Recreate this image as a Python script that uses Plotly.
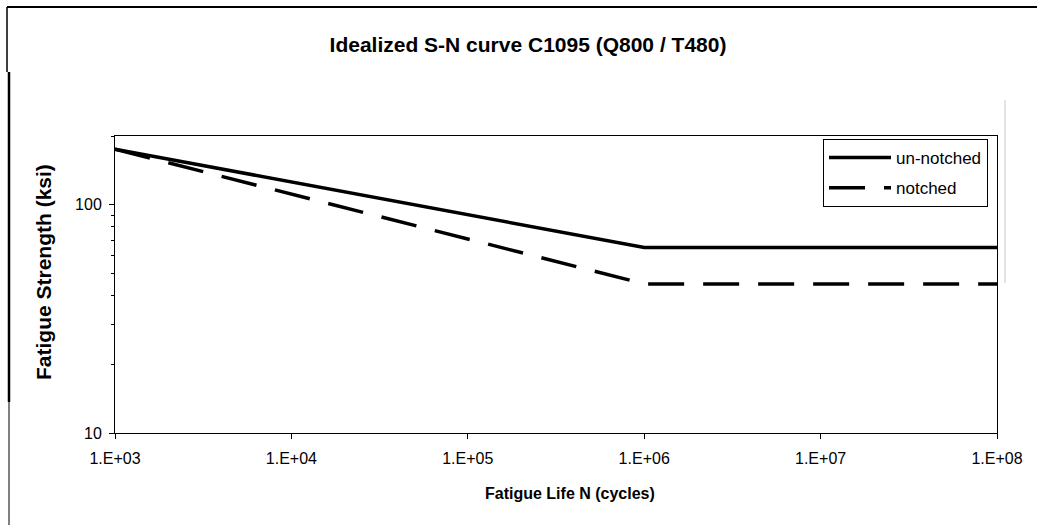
import plotly.graph_objects as go

# Data
cycles = [1e3, 1e6, 1e8]
unnotched = [175, 65, 65]
notched = [175, 45, 45]
x_tickvals = [1e3, 1e4, 1e5, 1e6, 1e7, 1e8]
x_ticktext = ["1.E+03", "1.E+04", "1.E+05", "1.E+06", "1.E+07", "1.E+08"]
y_tickvals = [10, 100]
y_ticktext = ["10", "100"]
y_minor = [20, 30, 40, 50, 60, 70, 80, 90, 200]

W, H = 1037, 525
L, R, T, B = 115, 997, 136, 433
FONT = "Liberation Sans, Arial, sans-serif"

def px(x):
    return (x - L) / (R - L)

def py(y):
    return (B - y) / (B - T)

fig = go.Figure()
fig.add_trace(go.Scatter(x=cycles, y=unnotched, mode="lines", name="un-notched",
                         legendgroup="a",
                         line=dict(color="black", width=3.5)))
fig.add_trace(go.Scatter(x=cycles, y=notched, mode="lines", name="notched",
                         legendgroup="b",
                         line=dict(color="black", width=3.5, dash="36px,19px")))

fig.update_xaxes(type="log", range=[3, 8], tickvals=x_tickvals, ticktext=x_ticktext,
                 ticks="outside", ticklen=5, tickcolor="black", showline=True,
                 linecolor="black", linewidth=1, mirror=True, showgrid=False,
                 zeroline=False, ticklabelstandoff=6,
                 tickfont=dict(family=FONT, size=16, color="black"))
fig.update_yaxes(type="log", range=[1, 2.30103], tickvals=y_tickvals, ticktext=y_ticktext,
                 ticks="outside", ticklen=5, tickcolor="black", showline=True,
                 linecolor="black", linewidth=1, mirror=True, showgrid=False,
                 zeroline=False, ticklabelstandoff=4,
                 tickfont=dict(family=FONT, size=16, color="black"),
                 minor=dict(tickvals=y_minor, ticks="outside", ticklen=3,
                            tickcolor="black", showgrid=False))

shapes = [
    # outer chart border fragments
    dict(type="line", xref="paper", yref="paper", x0=px(7), x1=px(1037), y0=py(7), y1=py(7),
         line=dict(color="black", width=2)),
    dict(type="line", xref="paper", yref="paper", x0=px(7), x1=px(7), y0=py(7), y1=py(72),
         line=dict(color="black", width=1.5)),
    dict(type="line", xref="paper", yref="paper", x0=px(9), x1=px(9), y0=py(72), y1=py(402),
         line=dict(color="black", width=2.5)),
    dict(type="line", xref="paper", yref="paper", x0=px(9), x1=px(9), y0=py(402), y1=py(525),
         line=dict(color="black", width=1)),
    dict(type="line", xref="paper", yref="paper", x0=px(1005), x1=px(1005), y0=py(100), y1=py(283),
         line=dict(color="#c8c8c8", width=1)),
]

annotations = [
    dict(text="<b>Fatigue Life N (cycles)</b>", xref="paper", yref="paper",
         x=px(570), y=py(493), showarrow=False, xanchor="center", yanchor="middle",
         font=dict(family=FONT, size=16, color="black")),
    dict(text="<b>Fatigue Strength (ksi)</b>", xref="paper", yref="paper",
         x=px(43), y=py(272), showarrow=False, xanchor="center", yanchor="middle",
         textangle=-90, font=dict(family=FONT, size=21, color="black")),
]

fig.update_layout(
    width=W, height=H,
    margin=dict(l=L, r=W - R, t=T, b=H - B, pad=0),
    paper_bgcolor="white", plot_bgcolor="white",
    title=dict(text="<b>Idealized S-N curve C1095 (Q800 / T480)</b>",
               x=px(528), xref="paper", xanchor="center",
               y=1 - 45 / H, yref="container", yanchor="middle",
               font=dict(family=FONT, size=21, color="black")),
    legend=dict(x=px(823), y=py(139), xanchor="left", yanchor="top",
                bgcolor="white", bordercolor="black", borderwidth=1,
                font=dict(family=FONT, size=17, color="black"),
                itemwidth=62, tracegroupgap=5),
    showlegend=True,
    shapes=shapes,
    annotations=annotations,
)

fig.write_html("out.html", config={"displayModeBar": False},
               post_script="document.body.style.margin='0';document.body.style.overflow='hidden';")
